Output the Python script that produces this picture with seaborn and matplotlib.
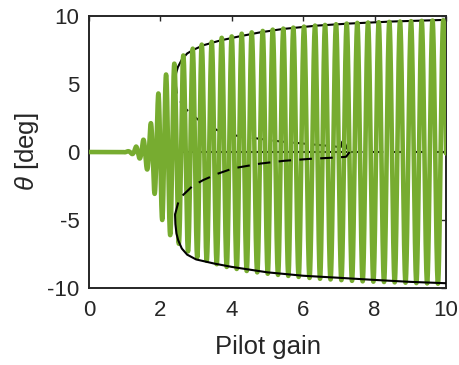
import numpy as np
import pandas as pd
import matplotlib
matplotlib.use("Agg")
import matplotlib.pyplot as plt
import seaborn as sns

# Simulated pitch response while the pilot gain is slowly ramped up
peak_gain = [1.09, 1.317, 1.521, 1.728, 1.941, 2.157, 2.389, 2.641, 2.905, 3.157,
             3.437, 3.717, 3.997, 4.277, 4.557, 4.866, 5.146, 5.443, 5.723, 6.022,
             6.331, 6.611, 6.919, 7.218, 7.515, 7.815, 8.115, 8.412, 8.711, 9.020,
             9.319, 9.622, 9.924]
env_gain = [0.0, 0.95, 1.15, 1.25, 1.317, 1.45, 1.521, 1.63, 1.728, 1.85, 1.941,
            2.05, 2.157, 2.27, 2.389, 2.50, 2.641, 2.77, 2.905, 3.157, 3.437,
            3.717, 3.997, 4.277, 4.557, 5.146, 5.723, 6.331, 6.919, 7.515, 8.115,
            8.711, 9.319, 10.0]
env_amp = [0.0, 0.0, 0.08, 0.2, 0.4, 0.5, 0.9, 1.3, 2.1, 3.2, 4.3,
           5.0, 5.7, 6.1, 6.5, 6.7, 7.1, 7.3, 7.6, 7.9, 8.1,
           8.4, 8.5, 8.7, 8.8, 9.0, 9.15, 9.3, 9.4, 9.5, 9.55,
           9.6, 9.65, 9.7]

# Limit-cycle branches (continuation)
stable_up_gain = [2.42, 2.44, 2.49, 2.60, 2.75, 2.91, 3.20, 3.67, 4.20, 4.79, 5.43,
                  6.40, 7.30, 8.50, 10.0]
stable_up_amp = [5.2, 5.8, 6.25, 6.8, 7.25, 7.5, 7.85, 8.2, 8.5, 8.8, 9.05,
                 9.3, 9.45, 9.6, 9.72]
unstable_up_gain = [2.42, 2.46, 2.60, 2.74, 3.00, 3.20, 3.60, 4.00, 4.70, 5.35,
                    6.10, 6.85, 7.05, 7.12, 7.22, 7.30]
unstable_up_amp = [5.2, 4.3, 3.5, 3.1, 2.5, 2.1, 1.6, 1.25, 1.0, 0.78,
                   0.6, 0.42, 0.35, 1.0, 0.3, 0.0]
stable_lo_gain = [2.41, 2.42, 2.45, 2.50, 2.60, 2.75, 3.00, 3.50, 4.00, 4.50,
                  5.00, 6.00, 7.00, 7.95, 9.00, 10.0]
stable_lo_amp = [-4.6, -5.3, -6.0, -6.5, -7.1, -7.55, -7.9, -8.2, -8.45, -8.65,
                 -8.85, -9.1, -9.25, -9.4, -9.55, -9.65]
unstable_lo_gain = [2.41, 2.50, 2.58, 2.90, 3.20, 3.60, 4.04, 4.80, 5.45, 6.20,
                    6.95, 7.20, 7.30]
unstable_lo_amp = [-4.6, -3.7, -3.3, -2.5, -2.06, -1.6, -1.2, -0.85, -0.65, -0.5,
                   -0.4, -0.35, 0.0]

# Trim equilibrium: stable below the Hopf gain, unstable above
hopf_gain = 7.3
gain_max = 10.0

x_ticks = [0, 2, 4, 6, 8, 10]
y_ticks = [-10, -5, 0, 5, 10]

GREEN = "#77AC30"
INK = "#262626"

sns.set_theme(style="white")
plt.rcParams["font.family"] = ["Liberation Sans", "DejaVu Sans"]
plt.rcParams["mathtext.fontset"] = "custom"
plt.rcParams["mathtext.it"] = "Liberation Sans:italic"
plt.rcParams["mathtext.rm"] = "Liberation Sans"

# Build the response trace: phase counts cycles between peaks
g = np.linspace(0.0, gain_max, 40000)
pk = np.asarray(peak_gain)
idx = np.arange(len(pk), dtype=float)
cycles = np.interp(g, pk, idx)
t0 = pk[1] - pk[0]
t1 = pk[-1] - pk[-2]
cycles = np.where(g < pk[0], (g - pk[0]) / t0, cycles)
cycles = np.where(g > pk[-1], idx[-1] + (g - pk[-1]) / t1, cycles)
theta = np.interp(g, env_gain, env_amp) * np.cos(2 * np.pi * cycles)
response = pd.DataFrame({"gain": g, "theta": theta})

fig, ax = plt.subplots(figsize=(4.6, 3.65), dpi=100)
fig.subplots_adjust(left=0.1935, right=0.9696, bottom=0.211, top=0.956)

dash = (6, 4)
lw_k = 1.5

# equilibrium branch
sns.lineplot(x=[0.0, hopf_gain], y=[0.0, 0.0], ax=ax, color="black", lw=lw_k,
             zorder=2, estimator=None)
sns.lineplot(x=[hopf_gain, gain_max], y=[0.0, 0.0], ax=ax, color="black", lw=lw_k,
             zorder=2, estimator=None)
ax.lines[-1].set_dashes(dash)
# upper limit-cycle branches (behind the response)
sns.lineplot(x=stable_up_gain, y=stable_up_amp, ax=ax, color="black", lw=lw_k,
             zorder=2, estimator=None, sort=False)
sns.lineplot(x=unstable_up_gain, y=unstable_up_amp, ax=ax, color="black", lw=lw_k,
             zorder=2, estimator=None, sort=False)
ax.lines[-1].set_dashes(dash)

# time response
sns.lineplot(data=response, x="gain", y="theta", ax=ax, color=GREEN, lw=3.3,
             zorder=3, estimator=None, sort=False)

# lower limit-cycle branches (in front of the response)
sns.lineplot(x=stable_lo_gain, y=stable_lo_amp, ax=ax, color="black", lw=lw_k,
             zorder=4, estimator=None, sort=False)
sns.lineplot(x=unstable_lo_gain, y=unstable_lo_amp, ax=ax, color="black", lw=lw_k,
             zorder=4, estimator=None, sort=False)
ax.lines[-1].set_dashes(dash)

ax.set_xlim(0, 10)
ax.set_ylim(-10, 10)
ax.set_xticks(x_ticks)
ax.set_yticks(y_ticks)
ax.set_xticklabels([str(v) for v in x_ticks])
ax.set_yticklabels([str(v) for v in y_ticks])
ax.tick_params(direction="in", top=True, right=True, length=3.5, width=1.0,
               color=INK, labelcolor=INK, labelsize=16)
ax.tick_params(axis="x", pad=9)
ax.tick_params(axis="y", pad=7)
for s in ax.spines.values():
    s.set_visible(True)
    s.set_color(INK)
    s.set_linewidth(1.4)

ax.set_xlabel("Pilot gain", fontsize=18.5, color=INK, labelpad=10)
ax.set_ylabel(r"$\theta$ [deg]", fontsize=18.5, color=INK, labelpad=4)

fig.savefig("out.png", dpi=100)
